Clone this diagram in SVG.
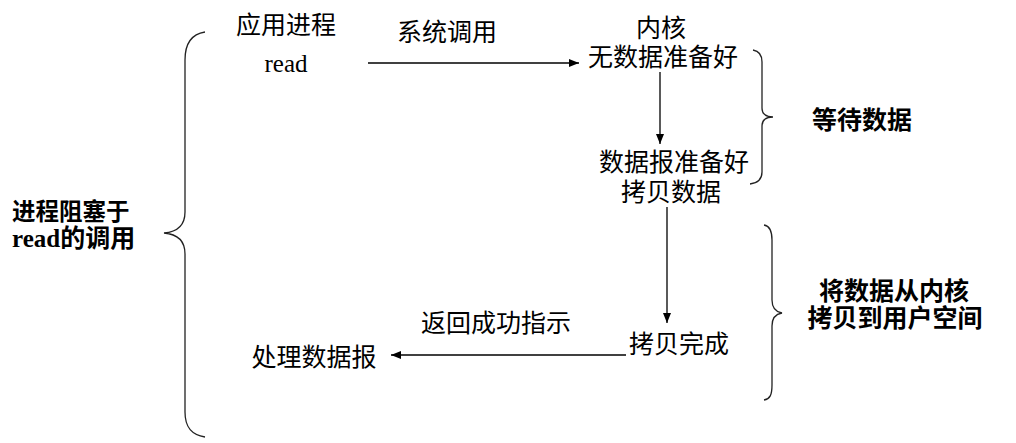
<svg xmlns="http://www.w3.org/2000/svg" width="1016" height="443" viewBox="0 0 1016 443">
<style>
text{font-family:"Liberation Serif","Noto Sans CJK SC",serif;font-size:25px;fill:#000;text-anchor:middle}
.b{font-weight:bold}
.l{text-anchor:start}
.lat{font-family:"Liberation Serif",serif}
.conn line{stroke:#000;stroke-width:1.3}
.brace{fill:none;stroke:#222;stroke-width:1.3}
</style>
<defs>
<marker id="ah" viewBox="0 0 10 8" refX="10" refY="4" markerWidth="10" markerHeight="8" markerUnits="userSpaceOnUse" orient="auto">
<path d="M0,0 L10,4 L0,8 Z" fill="#000"/>
</marker>
</defs>
<rect width="1016" height="443" fill="#fff"/>
<g id="brace-left"><path class="brace" d="M205,32 C192,34 185,42 185,60 L185,212 C185,226 176,232 164,233 C176,234 185,240 185,254 L185,412 C185,428 192,435 205,437"/></g>
<g id="brace-wait"><path class="brace" d="M753,50 C759,51 762,55 762,62 L762,108 C762,114 766,117 773,117 C766,117 762,120 762,126 L762,172 C762,179 758,183 750,184"/></g>
<g id="brace-copy"><path class="brace" d="M764,225 C770,226 772,231 772,240 L772,300 C772,308 776,312 782,313 C776,314 772,318 772,326 L772,385 C772,395 770,399 764,400"/></g>
<g id="app"><text x="286" y="34">应用进程</text></g>
<g id="read"><text class="lat" x="286" y="72">read</text></g>
<g id="kernel"><text x="661" y="37">内核</text><text x="663" y="66">无数据准备好</text></g>
<g id="ready"><text x="674" y="171">数据报准备好</text><text x="671" y="201">拷贝数据</text></g>
<g id="done"><text x="679" y="353">拷贝完成</text></g>
<g id="process"><text x="314" y="366">处理数据报</text></g>
<g id="wait-label"><text class="b" x="862" y="129">等待数据</text></g>
<g id="copy-label"><text class="b" x="894" y="300">将数据从内核</text><text class="b" x="895" y="327">拷贝到用户空间</text></g>
<g id="block-label"><text class="b l" x="12" y="220" style="font-size:23.5px">进程阻塞于</text><text class="b l" x="12" y="247"><tspan class="lat">read</tspan>的调用</text></g>
<g class="conn" id="connectors">
<line x1="368" y1="63" x2="579" y2="63" marker-end="url(#ah)"/>
<text x="447" y="41">系统调用</text>
<line x1="660" y1="72" x2="660" y2="144" marker-end="url(#ah)"/>
<line x1="667" y1="207" x2="667" y2="323" marker-end="url(#ah)"/>
<line x1="626" y1="355" x2="391" y2="355" marker-end="url(#ah)"/>
<text x="496" y="332">返回成功指示</text>
</g>
</svg>
